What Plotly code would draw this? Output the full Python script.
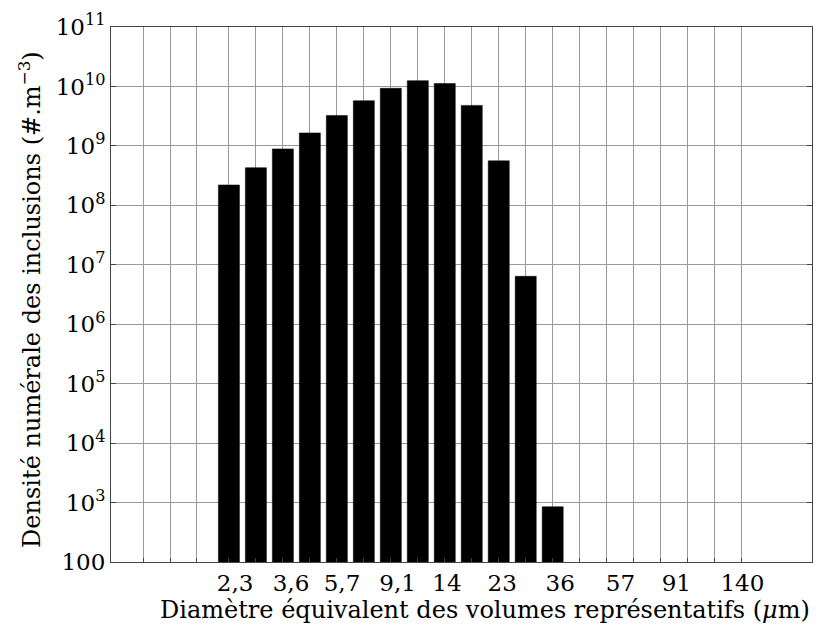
import plotly.graph_objects as go

# Data
diameters = ["2,3", "2,9", "3,6", "4,5", "5,7", "7,2", "9,1", "11", "14", "18", "23", "29", "36"]
densities = [2.2e8, 4.3e8, 8.9e8, 1.65e9, 3.25e9, 5.75e9, 9.3e9, 1.25e10, 1.12e10, 4.8e9, 5.6e8, 6.4e6, 850]
tick_labels = ["2,3", "3,6", "5,7", "9,1", "14", "23", "36", "57", "91", "140"]
y_tick_labels = ["100", "10<sup>3</sup>", "10<sup>4</sup>", "10<sup>5</sup>", "10<sup>6</sup>",
                 "10<sup>7</sup>", "10<sup>8</sup>", "10<sup>9</sup>", "10<sup>10</sup>", "10<sup>11</sup>"]
y_tick_vals = [1e2, 1e3, 1e4, 1e5, 1e6, 1e7, 1e8, 1e9, 1e10, 1e11]

# Layout constants (bin index units)
bar_x = list(range(len(densities)))
grid_pos = [-3.17, -2.18, -1.19] + list(range(0, 20))
label_pos = [0.23, 2.30, 4.19, 6.25, 8.08, 10.13, 12.28, 14.51, 16.58, 19.03]

FONT = "DejaVu Serif"
FS = 23

fig = go.Figure()
fig.add_trace(go.Bar(
    x=bar_x, y=densities, width=0.78,
    marker=dict(color="black", line=dict(color="black", width=0.5)),
    hovertext=diameters,
))

# page body has an 8px default margin: figure is 832x622 so it fills the 840x630 window
fig.update_layout(
    width=832, height=622,
    margin=dict(l=103, r=28, t=19, b=68),
    plot_bgcolor="white", paper_bgcolor="white",
    showlegend=False,
    font=dict(family=FONT, size=FS, color="black"),
    xaxis=dict(
        range=[-4.37, 21.61], automargin=False,
        tickmode="array", tickvals=label_pos, ticktext=tick_labels,
        showgrid=False, ticks="", zeroline=False, ticklabelstandoff=0,
        showline=True, linecolor="#444", linewidth=1, mirror=True,
        tickfont=dict(family=FONT, size=FS),
        minor=dict(tickmode="array", tickvals=grid_pos, showgrid=True,
                   gridcolor="#9a9a9a", gridwidth=1,
                   ticks="inside", ticklen=4, tickcolor="#444"),
    ),
    yaxis=dict(
        type="log", range=[2, 11], automargin=False,
        tickmode="array", tickvals=y_tick_vals, ticktext=y_tick_labels,
        showgrid=True, gridcolor="#9a9a9a", gridwidth=1,
        ticks="inside", ticklen=5, tickcolor="#444",
        showline=True, linecolor="#444", linewidth=1, mirror="ticks",
        tickfont=dict(family=FONT, size=FS),
        zeroline=False,
    ),
    annotations=[
        dict(text="Diamètre équivalent des volumes représentatifs (<i>μ</i>m)",
             xref="paper", yref="paper", x=1.0, y=-0.09, xanchor="right", yanchor="middle",
             showarrow=False, font=dict(family=FONT, size=24)),
        dict(text="Densité numérale des inclusions (#.m<sup>−3</sup>)",
             xref="paper", yref="paper", x=-0.1155, y=0.49, xanchor="center", yanchor="middle",
             textangle=-90, showarrow=False, font=dict(family=FONT, size=24)),
    ],
)

fig.write_html("out.html")
